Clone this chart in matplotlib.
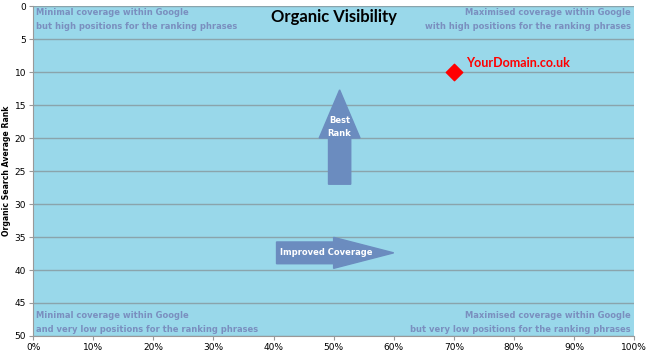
import matplotlib.pyplot as plt
import matplotlib.patches as mpatches
from matplotlib.ticker import FuncFormatter

coverage = [0.70]
avg_rank = [10]
domain_labels = ["YourDomain.co.uk"]

x_ticks = [i / 10 for i in range(11)]
y_ticks = list(range(0, 51, 5))

quad_color = "#7a8fbf"
arrow_color = "#6b8cbf"

fig = plt.figure(figsize=(6.5, 3.58), dpi=100)
ax = fig.add_axes([0.051, 0.0615, 0.9245, 0.9215])
ax.set_facecolor("#99d8ea")

ax.set_xlim(0, 1)
ax.set_ylim(50, 0)
ax.set_xticks(x_ticks)
ax.set_yticks(y_ticks)
ax.xaxis.set_major_formatter(FuncFormatter(lambda v, p: f"{v:.0%}"))
ax.tick_params(labelsize=6.5, length=3, color="#999999", pad=2)
ax.grid(axis="y", color="#8aa4ac", linewidth=1)
ax.set_axisbelow(True)
for s in ["top", "right"]:
    ax.spines[s].set_visible(False)
for s in ["left", "bottom"]:
    ax.spines[s].set_color("#999999")

ax.set_ylabel("Organic Search Average Rank", fontsize=5.6, fontweight="bold", labelpad=3)

ax.scatter(coverage, avg_rank, marker="D", s=70, color="red", zorder=5)
for x, y, lab in zip(coverage, avg_rank, domain_labels):
    ax.text(x + 0.02, y - 0.4, lab, color="red", fontsize=9, fontweight="bold",
            family="Lato", va="bottom", ha="left")

ax.text(0.5, 0.99, "Organic Visibility", transform=ax.transAxes, ha="center", va="top",
        fontsize=12, fontweight="bold", family="Lato", color="black")

qk = dict(fontsize=6, fontweight="bold", color=quad_color, linespacing=1.7)
ax.text(0.004, 0.993, "Minimal coverage within Google\nbut high positions for the ranking phrases",
        transform=ax.transAxes, ha="left", va="top", **qk)
ax.text(0.995, 0.993, "Maximised coverage within Google\nwith high positions for the ranking phrases",
        transform=ax.transAxes, ha="right", va="top", multialignment="right", **qk)
ax.text(0.004, 0.005, "Minimal coverage within Google\nand very low positions for the ranking phrases",
        transform=ax.transAxes, ha="left", va="bottom", **qk)
ax.text(0.995, 0.005, "Maximised coverage within Google\nbut very low positions for the ranking phrases",
        transform=ax.transAxes, ha="right", va="bottom", multialignment="right", **qk)

up = mpatches.FancyArrow(0.51, 27, 0, -14.3, width=0.037, head_width=0.068,
                         head_length=7.3, length_includes_head=True,
                         color=arrow_color, zorder=3)
ax.add_patch(up)
ax.text(0.51, 18.3, "Best\nRank", ha="center", va="center", color="white",
        fontsize=6, fontweight="bold", linespacing=1.6, zorder=4)

right = mpatches.FancyArrow(0.405, 37.4, 0.195, 0, width=3.3, head_width=4.7,
                            head_length=0.10, length_includes_head=True,
                            color=arrow_color, zorder=3)
ax.add_patch(right)
ax.text(0.41, 37.4, "Improved Coverage", ha="left", va="center", color="white",
        fontsize=6, fontweight="bold", zorder=4)

fig.savefig("out.png", dpi=100)
